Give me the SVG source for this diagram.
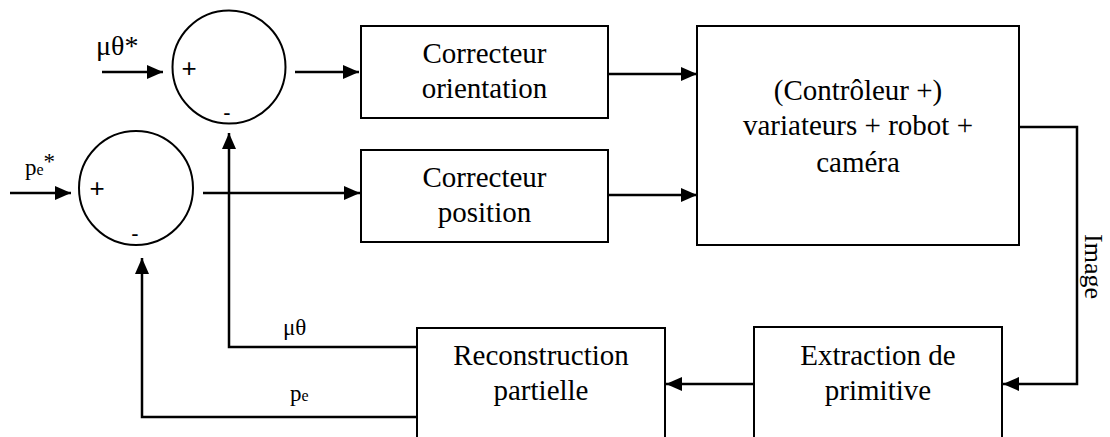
<svg xmlns="http://www.w3.org/2000/svg" width="1110" height="437" viewBox="0 0 1110 437">
  <style>
    .box { fill: #fff; stroke: #000; stroke-width: 2; }
    .sum { fill: #fff; stroke: #000; stroke-width: 2; }
    .wire { fill: none; stroke: #000; stroke-width: 2.5; }
    .arrow { marker-end: url(#head); }
    .lbl { font-family: "Liberation Serif", "Times New Roman", serif; font-size: 29px; fill: #000; text-anchor: middle; }
    .sig { font-family: "Liberation Serif", "Times New Roman", serif; fill: #000; }
    .sign { font-family: "Liberation Sans", Arial, sans-serif; fill: #000; text-anchor: middle; }
  </style>
  <defs>
    <marker id="head" markerUnits="userSpaceOnUse" markerWidth="16" markerHeight="14" viewBox="0 0 16 14" refX="16" refY="7" orient="auto">
      <path d="M0,0 L16,7 L0,14 z" fill="#000"/>
    </marker>
  </defs>
  <rect width="1110" height="437" fill="#fff"/>

  <!-- signal lines -->
  <g id="connectors">
    <path class="wire arrow" d="M102,72 H163"/>
    <path class="wire arrow" d="M295,72 H359"/>
    <path class="wire arrow" d="M10,193 H71"/>
    <path class="wire arrow" d="M203,193 H360"/>
    <path class="wire arrow" d="M608,74 H697"/>
    <path class="wire arrow" d="M608,195 H697"/>
    <path class="wire arrow" d="M1019,127 H1077 V384 H1003"/>
    <path class="wire arrow" d="M754,384 H666"/>
    <path class="wire arrow" d="M417,347 H229 V133"/>
    <path class="wire arrow" d="M417,417 H142 V258"/>
    <text class="sig" x="96" y="55" font-size="28">μθ*</text>
    <text class="sig" x="25" y="175" font-size="23">p<tspan font-size="16">e</tspan><tspan dy="-6">*</tspan></text>
    <text class="sig" x="283" y="335" font-size="23">μθ</text>
    <text class="sig" x="290" y="401" font-size="23">p<tspan font-size="16">e</tspan></text>
    <text class="sig" font-size="26" transform="translate(1085,234) rotate(90)">Image</text>
  </g>

  <!-- summing junctions -->
  <g id="sum-orientation">
    <circle class="sum" cx="229" cy="67" r="56.5"/>
    <text class="sign" x="189" y="77" font-size="26">+</text>
    <text class="sign" x="227" y="120" font-size="22">-</text>
  </g>
  <g id="sum-position">
    <circle class="sum" cx="136" cy="188" r="57"/>
    <text class="sign" x="97" y="197" font-size="26">+</text>
    <text class="sign" x="135" y="241" font-size="22">-</text>
  </g>

  <!-- blocks -->
  <g id="correcteur-orientation">
    <rect class="box" x="361" y="26" width="247" height="92"/>
    <text class="lbl" x="484.5" y="63">Correcteur</text>
    <text class="lbl" x="484.5" y="98">orientation</text>
  </g>
  <g id="correcteur-position">
    <rect class="box" x="361" y="150" width="247" height="92"/>
    <text class="lbl" x="484.5" y="187">Correcteur</text>
    <text class="lbl" x="484.5" y="222">position</text>
  </g>
  <g id="systeme">
    <rect class="box" x="697" y="26" width="322" height="219"/>
    <text class="lbl" x="858" y="100">(Contrôleur +)</text>
    <text class="lbl" x="858" y="135">variateurs + robot +</text>
    <text class="lbl" x="858" y="172">caméra</text>
  </g>
  <g id="reconstruction">
    <rect class="box" x="417" y="328" width="248" height="130"/>
    <text class="lbl" x="541" y="365">Reconstruction</text>
    <text class="lbl" x="541" y="400">partielle</text>
  </g>
  <g id="extraction">
    <rect class="box" x="754" y="327" width="248" height="130"/>
    <text class="lbl" x="878" y="365">Extraction de</text>
    <text class="lbl" x="878" y="400">primitive</text>
  </g>
</svg>
